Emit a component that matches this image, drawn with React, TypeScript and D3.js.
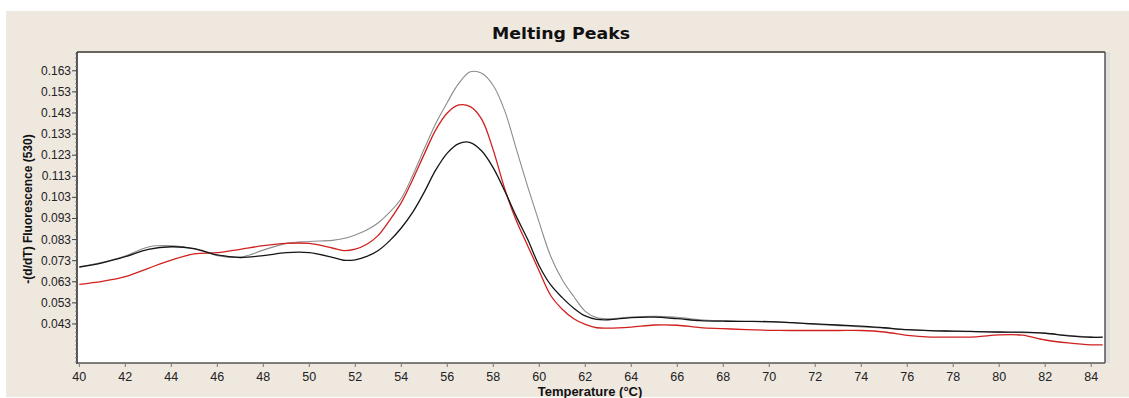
import React from "react";
import * as d3 from "d3";

const temps = [40, 41, 42, 43, 44, 45, 46, 47, 48, 49, 50, 51, 51.5, 52, 52.5, 53, 53.5, 54, 54.5, 55, 55.5, 56, 56.5, 57, 57.5, 58, 58.5, 59, 59.5, 60, 60.5, 61, 61.5, 62, 62.5, 63, 64, 65, 66, 67, 68, 69, 70, 71, 72, 73, 74, 75, 76, 77, 78, 79, 80, 81, 82, 83, 84, 84.5];

const blackSeries = [0.0700, 0.0720, 0.0749, 0.0784, 0.0796, 0.0787, 0.0757, 0.0745, 0.0754, 0.0768, 0.0768, 0.0746, 0.0732, 0.0734, 0.0750, 0.0778, 0.0825, 0.0885, 0.0960, 0.1055, 0.1160, 0.1240, 0.1285, 0.1290, 0.1250, 0.1170, 0.1060, 0.0940, 0.0830, 0.0705, 0.0615, 0.0555, 0.0505, 0.0468, 0.0452, 0.0450, 0.0460, 0.0462, 0.0455, 0.0446, 0.0443, 0.0442, 0.0441, 0.0436, 0.0430, 0.0425, 0.0420, 0.0412, 0.0403, 0.0398, 0.0396, 0.0394, 0.0392, 0.0391, 0.0386, 0.0374, 0.0367, 0.0368];

const redSeries = [0.0618, 0.0632, 0.0654, 0.0694, 0.0733, 0.0762, 0.0768, 0.0784, 0.0801, 0.0812, 0.0812, 0.0790, 0.0778, 0.0785, 0.0808, 0.0850, 0.0922, 0.1005, 0.1115, 0.1235, 0.1350, 0.1430, 0.1468, 0.1460, 0.1400, 0.1254, 0.1070, 0.0920, 0.0800, 0.0680, 0.0565, 0.0500, 0.0455, 0.0428, 0.0412, 0.0410, 0.0415, 0.0425, 0.0424, 0.0413, 0.0408, 0.0403, 0.0400, 0.0399, 0.0399, 0.0399, 0.0399, 0.0392, 0.0376, 0.0368, 0.0368, 0.0369, 0.0378, 0.0377, 0.0354, 0.0340, 0.0331, 0.0331];

const graySeries = [0.0700, 0.0722, 0.0752, 0.0795, 0.0801, 0.0786, 0.0754, 0.0746, 0.0780, 0.0812, 0.0821, 0.0826, 0.0835, 0.0852, 0.0875, 0.0910, 0.0960, 0.1025, 0.1135, 0.1260, 0.1380, 0.1480, 0.1570, 0.1625, 0.1618, 0.1560, 0.1440, 0.1260, 0.1080, 0.0910, 0.0750, 0.0640, 0.0560, 0.0490, 0.0460, 0.0455, 0.0463, 0.0466, 0.0462, 0.0450, 0.0445, 0.0442, 0.0440, 0.0436, 0.0428, 0.0422, 0.0416, 0.0410, 0.0403, 0.0398, 0.0395, 0.0393, 0.0390, 0.0389, 0.0386, 0.0376, 0.0368, 0.0367];

const xTicks = [40, 42, 44, 46, 48, 50, 52, 54, 56, 58, 60, 62, 64, 66, 68, 70, 72, 74, 76, 78, 80, 82, 84];
const yTicks = [0.043, 0.053, 0.063, 0.073, 0.083, 0.093, 0.103, 0.113, 0.123, 0.133, 0.143, 0.153, 0.163];

const title = "Melting Peaks";
const xTitle = "Temperature (°C)";
const yTitle = "-(d/dT) Fluorescence (530)";

export default function App() {
  const W = 1129, H = 398;
  const L = 77, R = 1105, T = 52, B = 363;
  const x = d3.scaleLinear().domain([39.9, 84.6]).range([L, R]);
  const y = d3.scaleLinear().domain([0.0245, 0.1719]).range([B, T]);

  const mk = (vals: number[]) =>
    d3.line<number>()
      .x((_, i) => x(temps[i]))
      .y((v) => y(v))
      .curve(d3.curveCatmullRom.alpha(0.5))(vals) || "";

  const minor: number[] = [];
  for (let v = 0.025; v <= 0.1715; v += 0.002) minor.push(+v.toFixed(3));

  const font = "'Liberation Sans', Arial, sans-serif";

  return (
    <svg width={W} height={H} style={{ position: "absolute", left: 0, top: 0, display: "block" }}>
      <rect x={0} y={0} width={W} height={H} fill="#ffffff" />
      <rect x={6} y={11} width={W - 6} height={386} fill="#efe8df" />
      <rect x={R} y={T} width={5} height={B - T} fill="#e2e0dc" />
      <rect x={L} y={T} width={R - L} height={B - T} fill="#ffffff" />
      <defs>
        <clipPath id="plotclip">
          <rect x={L} y={T} width={R - L} height={B - T} />
        </clipPath>
      </defs>
      <text x={561} y={39} textAnchor="middle" fontFamily="'DejaVu Sans', Verdana, sans-serif" fontWeight="bold" fontSize={15} textLength={138} lengthAdjust="spacingAndGlyphs" fill="#111">{title}</text>

      <g clipPath="url(#plotclip)" fill="none">
        <path d={mk(graySeries)} stroke="#8c8c8c" strokeWidth={1.1} />
        <path d={mk(redSeries)} stroke="#d0201f" strokeWidth={1.3} />
        <path d={mk(blackSeries)} stroke="#151515" strokeWidth={1.3} />
      </g>

      {/* frame */}
      <line x1={L} x2={R} y1={T} y2={T} stroke="#686460" strokeWidth={2} />
      <line x1={R} x2={R} y1={T} y2={B} stroke="#555" strokeWidth={1.5} />
      <line x1={L} x2={L} y1={T} y2={B + 1} stroke="#222" strokeWidth={1.5} />
      <line x1={L} x2={R} y1={B} y2={B} stroke="#555" strokeWidth={1.5} />

      {/* y minor ticks */}
      {minor.map((v, i) => (
        <line key={"m" + i} x1={L - 2} x2={L} y1={y(v)} y2={y(v)} stroke="#777" strokeWidth={0.8} />
      ))}
      {yTicks.map((v) => (
        <g key={"y" + v}>
          <line x1={L - 5} x2={L} y1={y(v)} y2={y(v)} stroke="#444" strokeWidth={1} />
          <text x={L - 6} y={y(v) + 4} textAnchor="end" fontFamily={font} fontSize={12} fill="#222">{v.toFixed(3)}</text>
        </g>
      ))}
      {xTicks.map((v) => (
        <g key={"x" + v}>
          <line x1={x(v)} x2={x(v)} y1={B} y2={B + 4} stroke="#777" strokeWidth={1} />
          <text x={x(v)} y={381} textAnchor="middle" fontFamily={font} fontSize={12.5} fill="#222">{v}</text>
        </g>
      ))}
      <text x={590} y={396} textAnchor="middle" fontFamily={font} fontWeight="bold" fontSize={13} fill="#111">{xTitle}</text>
      <text transform="translate(32,209) rotate(-90)" textAnchor="middle" fontFamily={font} fontWeight="bold" fontSize={12} fill="#111">{yTitle}</text>
    </svg>
  );
}
